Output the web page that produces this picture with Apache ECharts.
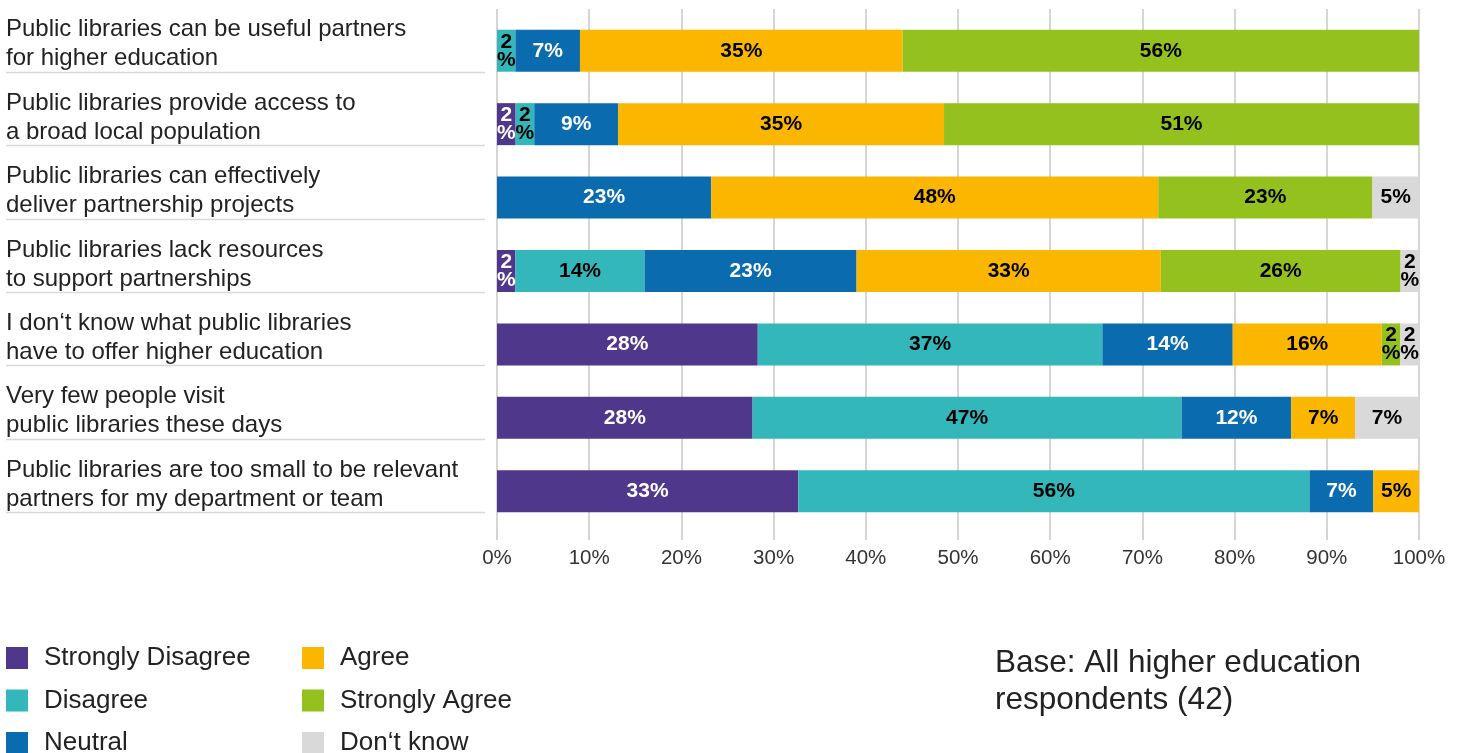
<!DOCTYPE html>
<html>
<head>
<meta charset="utf-8">
<script src="https://cdn.jsdelivr.net/npm/echarts@6/dist/echarts.min.js"></script>
<style>
  html, body { margin: 0; padding: 0; background: #fff; }
  #chart { width: 1467px; height: 753px; }
</style>
</head>
<body>
<div id="chart"></div>
<script>
// Statements, top to bottom
const statements = [
  'Public libraries can be useful partners\nfor higher education',
  'Public libraries provide access to\na broad local population',
  'Public libraries can effectively\ndeliver partnership projects',
  'Public libraries lack resources\nto support partnerships',
  'I don\u2018t know what public libraries\nhave to offer higher education',
  'Very few people visit\npublic libraries these days',
  'Public libraries are too small to be relevant\npartners for my department or team'
];

// Response shares (%) per statement, one array per answer
const stronglyDisagree = [0, 2, 0, 2, 28, 28, 33];
const disagree         = [2, 2, 0, 14, 37, 47, 56];
const neutral          = [7, 9, 23, 23, 14, 12, 7];
const agree            = [35, 35, 48, 33, 16, 7, 5];
const stronglyAgree    = [56, 51, 23, 26, 2, 0, 0];
const dontKnow         = [0, 0, 5, 2, 2, 7, 0];

const answerNames = ['Strongly Disagree', 'Disagree', 'Neutral', 'Agree', 'Strongly Agree', 'Don\u2018t know'];
const answerColors = ['#4F378B', '#33B7BB', '#0A6CAF', '#FBB700', '#95C11F', '#D9D9D9'];
const labelColors = ['#fff', '#000', '#fff', '#000', '#000', '#000'];
const axisTicks = [0, 10, 20, 30, 40, 50, 60, 70, 80, 90, 100];

const answers = [stronglyDisagree, disagree, neutral, agree, stronglyAgree, dontKnow];
// each bar is scaled to its statement's total so every row fills 0–100%
const rowTotals = statements.map((_, i) => answers.reduce((s, a) => s + a[i], 0));

const FONT = '"Liberation Sans", Arial, sans-serif';

const series = answers.map((arr, k) => ({
  name: answerNames[k],
  type: 'bar',
  stack: 'all',
  barWidth: 42,
  itemStyle: { color: answerColors[k] },
  label: {
    show: true,
    position: 'inside',
    color: labelColors[k],
    fontFamily: FONT,
    fontWeight: 'bold',
    fontSize: 21,
    lineHeight: 18,
    formatter: p => p.data.shown < 3 ? p.data.shown + '\n%' : p.data.shown + '%'
  },
  data: arr.map((v, i) => v ? { value: v / rowTotals[i] * 100, shown: v } : null)
}));

const legendText = { fontFamily: FONT, fontSize: 26, lineHeight: 22, color: '#222', padding: [0, 0, 0, 11] };

const chart = echarts.init(document.getElementById('chart'), null, { renderer: 'canvas' });

chart.setOption({
  animation: false,
  backgroundColor: '#fff',
  textStyle: { fontFamily: FONT },
  title: {
    text: 'Base: All higher education\nrespondents (42)',
    left: 995,
    top: 645,
    padding: 0,
    textStyle: { fontFamily: FONT, fontSize: 31.5, fontWeight: 'normal', color: '#222', lineHeight: 37 }
  },
  legend: [
    {
      data: answerNames.slice(0, 3),
      orient: 'vertical',
      left: 6, top: 645, padding: 0, height: 200,
      itemWidth: 22, itemHeight: 22, itemGap: 16.5,
      icon: 'rect',
      textStyle: legendText
    },
    {
      data: answerNames.slice(3),
      orient: 'vertical',
      left: 302, top: 645, padding: 0, height: 200,
      itemWidth: 22, itemHeight: 22, itemGap: 16.5,
      icon: 'rect',
      textStyle: legendText
    }
  ],
  grid: { left: 497, right: 48, top: 14, bottom: 225 },
  xAxis: [
    {
      type: 'value', min: 0, max: 100, interval: 10,
      axisLine: { show: false },
      axisTick: { show: true, length: 12, lineStyle: { color: '#C8C8C8', width: 1.5 } },
      splitLine: { show: true, lineStyle: { color: '#C8C8C8', width: 1.5 } },
      axisLabel: {
        fontFamily: FONT, fontSize: 20.5, color: '#333', margin: 20,
        formatter: v => axisTicks.includes(v) ? v + '%' : ''
      }
    },
    {
      type: 'value', min: 0, max: 100, interval: 10, position: 'top',
      axisLine: { show: false },
      axisTick: { show: true, length: 5, lineStyle: { color: '#C8C8C8', width: 1.5 } },
      splitLine: { show: false },
      axisLabel: { show: false }
    }
  ],
  yAxis: {
    type: 'category',
    inverse: true,
    data: statements,
    axisLine: { show: false },
    axisTick: { show: false },
    axisLabel: {
      interval: 0,
      showMinLabel: true,
      showMaxLabel: true,
      hideOverlap: false,
      align: 'left',
      margin: 491,
      // two text lines plus a short spacer line, so the text sits a little above the bar's centre
      formatter: v => v.split('\n').map(l => '{t|' + l + '}').join('\n') + '\n{gap| }',
      rich: {
        t: { fontFamily: FONT, fontSize: 24, lineHeight: 29, color: '#222' },
        gap: { fontSize: 10, lineHeight: 13 }
      }
    }
  },
  series: series
});

// thin rule under each statement, placed from the category axis
const halfBar = 21;
const rules = statements.map((s, i) => {
  const y = Math.round(chart.convertToPixel({ yAxisIndex: 0 }, i) + halfBar) + 0.5;
  return {
    type: 'line',
    shape: { x1: 6, y1: y, x2: 485, y2: y },
    style: { stroke: '#D9D9D9', lineWidth: 1.5 },
    silent: true
  };
});
chart.setOption({ graphic: rules });
</script>
</body>
</html>
